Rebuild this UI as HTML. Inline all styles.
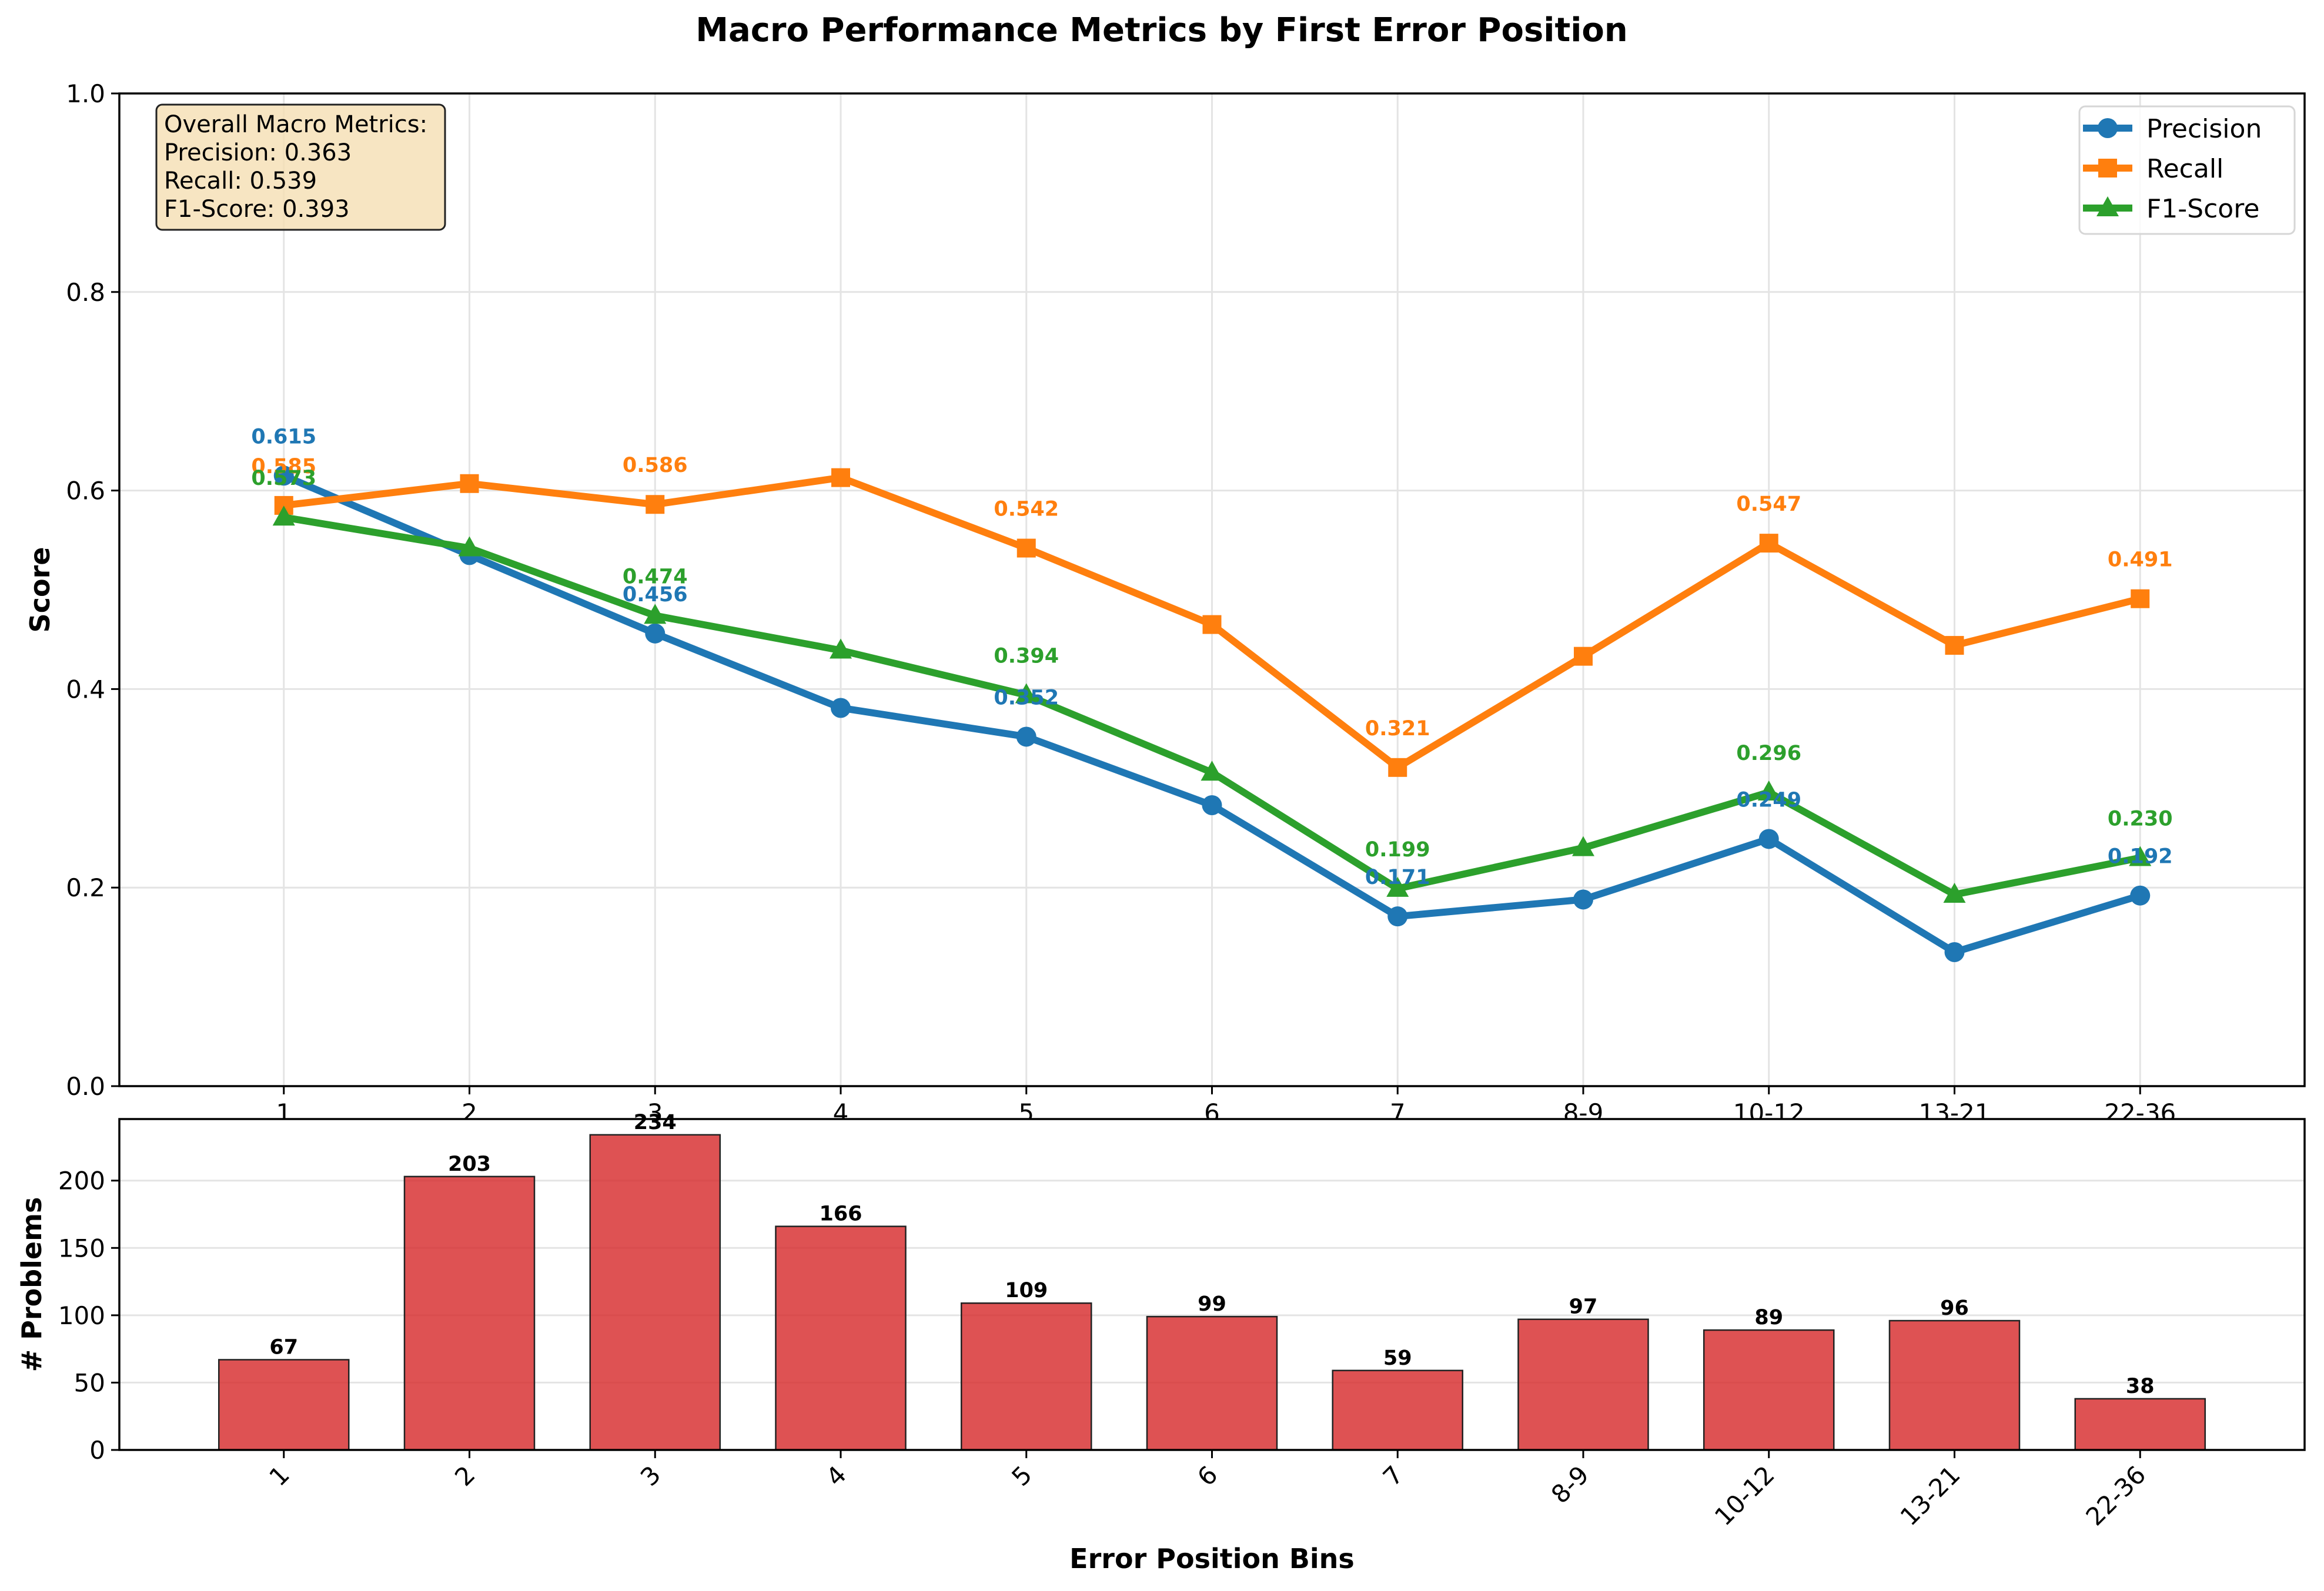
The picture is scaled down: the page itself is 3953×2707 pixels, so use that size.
<!DOCTYPE html>
<html><head><meta charset="utf-8"><style>
html,body{margin:0;padding:0;background:#fff}
svg{display:block;font-family:"DejaVu Sans","Liberation Sans",sans-serif}
</style></head><body>
<svg id="fig" xmlns="http://www.w3.org/2000/svg" width="3953" height="2707" viewBox="0 0 3953 2707">
<rect width="3953" height="2707" fill="#fff"/>
<text x="1976" y="70" text-anchor="middle" font-size="56" font-weight="bold">Macro Performance Metrics by First Error Position</text>
<g id="topPanel"></g>
<g id="botPanel"></g>
</svg>
<script>
const categories = ["1","2","3","4","5","6","7","8-9","10-12","13-21","22-36"];
const precision = [0.615,0.535,0.456,0.381,0.352,0.283,0.171,0.188,0.249,0.135,0.192];
const recall = [0.585,0.607,0.586,0.613,0.542,0.465,0.321,0.433,0.547,0.444,0.491];
const f1 = [0.573,0.542,0.474,0.439,0.394,0.316,0.199,0.240,0.296,0.193,0.230];
const counts = [67,203,234,166,109,99,59,97,89,96,38];
const scoreTicks = [0,0.2,0.4,0.6,0.8,1.0];
const countTicks = [0,50,100,150,200];

const NS="http://www.w3.org/2000/svg";
function mk(parent,tag,attrs){const e=document.createElementNS(NS,tag);for(const k in attrs)e.setAttribute(k,attrs[k]);parent.appendChild(e);return e;}
const L=203,R=3920,T1=159,B1=1848,T2=1904,B2=2467;
const n=categories.length;
const sp=(R-L)/(n-1+2*0.886);
function x(i){return L+0.886*sp+i*sp;}
function y1(v){return B1-v*(B1-T1);}
const cmax=Math.max(...counts)*1.05;
function y2(v){return B2-v/cmax*(B2-T2);}
const topG=document.getElementById('topPanel'), botG=document.getElementById('botPanel');

scoreTicks.forEach(t=>{
  const g=mk(topG,'line',{x1:L,x2:R,y1:y1(t),y2:y1(t),stroke:'#e4e4e4','stroke-width':3});
  
  
  mk(topG,'line',{x1:L-14,x2:L,y1:y1(t),y2:y1(t),stroke:'#000','stroke-width':3});
  const tx=mk(topG,'text',{x:L-24,y:y1(t)+15,'text-anchor':'end','font-size':42});
  tx.textContent=t.toFixed(1);
  
  
});
categories.forEach((c,i)=>{
  const g=mk(topG,'line',{x1:x(i),x2:x(i),y1:T1,y2:B1,stroke:'#e4e4e4','stroke-width':3});
  
  
  mk(topG,'line',{x1:x(i),x2:x(i),y1:B1,y2:B1+14,stroke:'#000','stroke-width':3});
  const tx=mk(topG,'text',{x:x(i),y:B1+60,'text-anchor':'middle','font-size':42});
  tx.textContent=c;
  
  
});
const series=[{d:precision,c:'#1f77b4',m:'circle',name:'precision'},{d:recall,c:'#ff7f0e',m:'square',name:'recall'},{d:f1,c:'#2ca02c',m:'triangle',name:'f1-score'}];
function marker(p,type,cx,cy,col){
  if(type==='circle')return mk(p,'circle',{cx:cx,cy:cy,r:17,fill:col});
  if(type==='square')return mk(p,'rect',{x:cx-16,y:cy-16,width:32,height:32,fill:col});
  return mk(p,'polygon',{points:`${cx},${cy-20} ${cx+19},${cy+14} ${cx-19},${cy+14}`,fill:col});
}
series.forEach(s=>{
  const pts=s.d.map((v,i)=>x(i)+','+y1(v)).join(' ');
  const pl=mk(topG,'polyline',{points:pts,fill:'none',stroke:s.c,'stroke-width':12,'stroke-linejoin':'round'});
  
  
  s.d.forEach((v,i)=>{
    const m=marker(topG,s.m,x(i),y1(v),s.c);
    
    
  });
});
series.forEach(s=>{
  s.d.forEach((v,i)=>{
    if(i%2)return;
    const tx=mk(topG,'text',{x:x(i),y:y1(v)-55,'text-anchor':'middle','font-size':35,'font-weight':'bold',fill:s.c});
    tx.textContent=v.toFixed(3);
    
    
  });
});
mk(topG,'rect',{x:L,y:T1,width:R-L,height:B1-T1,fill:'none',stroke:'#000','stroke-width':3.5});
const yl=mk(topG,'text',{x:0,y:0,'text-anchor':'middle','font-size':46,'font-weight':'bold',transform:`translate(84,${(T1+B1)/2}) rotate(-90)`});
yl.textContent='Score';


const ib=mk(topG,'g',{});


mk(ib,'rect',{x:266,y:178,width:491,height:213,rx:10,fill:'#f5deb3','fill-opacity':0.8,stroke:'#222','stroke-width':3});
['Overall Macro Metrics:','Precision: 0.363','Recall: 0.539','F1-Score: 0.393'].forEach((t,k)=>{
  const tx=mk(ib,'text',{x:279,y:225+k*48,'font-size':40});tx.textContent=t;
});
const lg=mk(topG,'g',{});


mk(lg,'rect',{x:3537,y:181,width:366,height:217,rx:10,fill:'#fff','fill-opacity':0.8,stroke:'#d6d6d6','stroke-width':3});
series.forEach((s,k)=>{
  const cy=218+k*68;
  const e=mk(lg,'g',{});
  
  
  mk(e,'line',{x1:3543,x2:3627,y1:cy,y2:cy,stroke:s.c,'stroke-width':12});
  marker(e,s.m,3585,cy,s.c);
  const tx=mk(e,'text',{x:3651,y:cy+16,'font-size':44});
  tx.textContent=['Precision','Recall','F1-Score'][k];
});

mk(botG,'rect',{x:L,y:T2,width:R-L,height:B2-T2,fill:'#fff'});
countTicks.forEach(t=>{
  const g=mk(botG,'line',{x1:L,x2:R,y1:y2(t),y2:y2(t),stroke:'#e4e4e4','stroke-width':3});
  
  
  mk(botG,'line',{x1:L-14,x2:L,y1:y2(t),y2:y2(t),stroke:'#000','stroke-width':3});
  const tx=mk(botG,'text',{x:L-24,y:y2(t)+15,'text-anchor':'end','font-size':42});
  tx.textContent=t;
  
  
});
const bw=0.7*sp;
counts.forEach((v,i)=>{
  const b=mk(botG,'rect',{x:x(i)-bw/2,y:y2(v),width:bw,height:y2(0)-y2(v),fill:'#d62728','fill-opacity':0.8,stroke:'#222','stroke-width':2.5});
  
  
  const tx=mk(botG,'text',{x:x(i),y:y2(v)-10,'text-anchor':'middle','font-size':35,'font-weight':'bold'});
  tx.textContent=v;
  
  
  mk(botG,'line',{x1:x(i),x2:x(i),y1:B2,y2:B2+14,stroke:'#000','stroke-width':3});
  const tl=mk(botG,'text',{x:0,y:0,'text-anchor':'end','font-size':42,transform:`translate(${x(i)+12},${B2+45}) rotate(-45)`});
  tl.textContent=categories[i];
  
  
});
mk(botG,'rect',{x:L,y:T2,width:R-L,height:B2-T2,fill:'none',stroke:'#000','stroke-width':3.5});
const yl2=mk(botG,'text',{x:0,y:0,'text-anchor':'middle','font-size':46,'font-weight':'bold',transform:`translate(70,${(T2+B2)/2}) rotate(-90)`});
yl2.textContent='# Problems';


const xl=mk(botG,'text',{x:(L+R)/2,y:2668,'text-anchor':'middle','font-size':46,'font-weight':'bold'});
xl.textContent='Error Position Bins';


</script>
</body></html>
